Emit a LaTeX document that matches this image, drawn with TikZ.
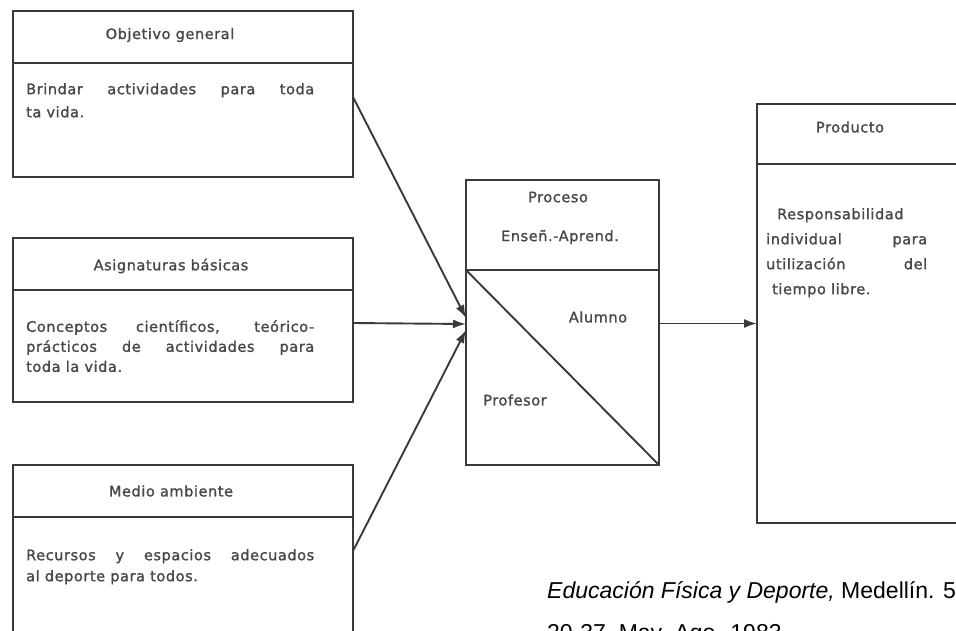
\documentclass[tikz,border=0pt]{standalone}
\usepackage{fontspec}
\usetikzlibrary{arrows.meta,positioning}
\newfontfamily\boxfont[LetterSpace=4,FakeBold=1.4]{DejaVu Sans}
\newfontfamily\capfont{Liberation Sans}
\definecolor{linea}{HTML}{3A3A3A}
\definecolor{texto}{HTML}{484848}

\begin{document}
\begin{tikzpicture}[
  x=1pt, y=-1pt,
  caja/.style={rectangle, draw=linea, line width=2.2pt, inner sep=0pt, outer sep=0pt},
  cabeza/.style={caja, minimum width=340pt, minimum height=52pt, anchor=north west},
  cuerpo/.style={caja, minimum width=340pt},
  tit/.style={inner sep=0pt, text=texto, font=\boxfont\fontsize{14.5}{16}\selectfont},
  txt/.style={anchor=north west, align=left, inner sep=0pt, text=texto, font=\boxfont\fontsize{14.5}{#1}\selectfont},
  txt/.default=21,
  flecha/.style={draw=linea, line width=1.9pt, -{Latex[length=13pt,width=9pt]}}
]
\useasboundingbox (0,0) rectangle (956,630);
\clip (0,0) rectangle (956,630);

% Entradas
\node[cabeza] (objh) at (13,11) {};
\node[cuerpo, minimum height=114pt, below=0pt of objh] (objb) {};
\node[tit] at ([xshift=-13pt,yshift=2pt]objh.center) {Objetivo general};
\node[txt=23] (objt) at (26,83) {\makebox[288pt][s]{Brindar actividades para toda}\\ ta vida.};

\node[cabeza] (asgh) at (13,238) {};
\node[cuerpo, minimum height=112pt, below=0pt of asgh] (asgb) {};
\node[tit] at ([xshift=-12pt,yshift=-2pt]asgh.center) {Asignaturas básicas};
\node[txt=20] (asgt) at (26,320) {\makebox[288pt][s]{Conceptos científicos, teórico-}\\
  \makebox[288pt][s]{prácticos de actividades para}\\ toda la vida.};

\node[cabeza] (medh) at (13,465) {};
\node[cuerpo, minimum height=122pt, below=0pt of medh] (medb) {};
\node[tit] at ([xshift=-12pt]medh.center) {Medio ambiente};
\node[txt] (medt) at (26,549) {\makebox[288pt][s]{Recursos y espacios adecuados}\\ al deporte para todos.};

% Proceso
\node[caja, minimum width=193pt, minimum height=90pt, anchor=north west] (proch) at (466,180) {};
\node[caja, minimum width=193pt, minimum height=195pt, below=0pt of proch] (procb) {};
\node[tit] (proct) at (558,197) {Proceso};
\node[tit] (ensen) at (560,237) {Enseñ.-Aprend.};
\node[tit] (alum) at (598,317) {Alumno};
\node[tit] (prof) at (515,400) {Profesor};
\draw[draw=linea, line width=1.9pt] (procb.north west) -- (procb.south east);

% Producto
\node[caja, minimum width=240pt, minimum height=60pt, anchor=north west] (prodh) at (757,104) {};
\node[caja, minimum width=240pt, minimum height=359pt, below=0pt of prodh] (prodb) {};
\node[tit] (prodn) at (850,127) {Producto};
\node[txt=25] (prodt) at (766,208) {\hspace*{11pt}Responsabilidad\\
  \makebox[161pt][s]{individual para}\\ \makebox[161pt][s]{utilización del}\\ \hspace*{6pt}tiempo libre.};

% Conexiones
\draw[flecha] ([yshift=23pt]objb.east) -- ([yshift=49.5pt]procb.west);
\draw[flecha] ([yshift=23pt]asgb.east) -- ([yshift=43.5pt]procb.west);
\draw[flecha] ([yshift=27pt]medb.east) -- ([yshift=37.5pt]procb.west);
\coordinate (psal) at ([yshift=44pt]procb.east);
\draw[flecha] (psal) -- (psal -| prodb.west);

% Fuente
\node[anchor=base west, inner sep=0pt, font=\capfont\fontsize{23}{26}\selectfont] (fuente) at (547,598)
  {\textit{Educación Física y Deporte,} Medellín. 5};
\node[anchor=base west, inner sep=0pt, font=\capfont\fontsize{23}{26}\selectfont] (fuente2) at (547,640)
  {20-37, May.-Ago. 1983};
\end{tikzpicture}
\end{document}
